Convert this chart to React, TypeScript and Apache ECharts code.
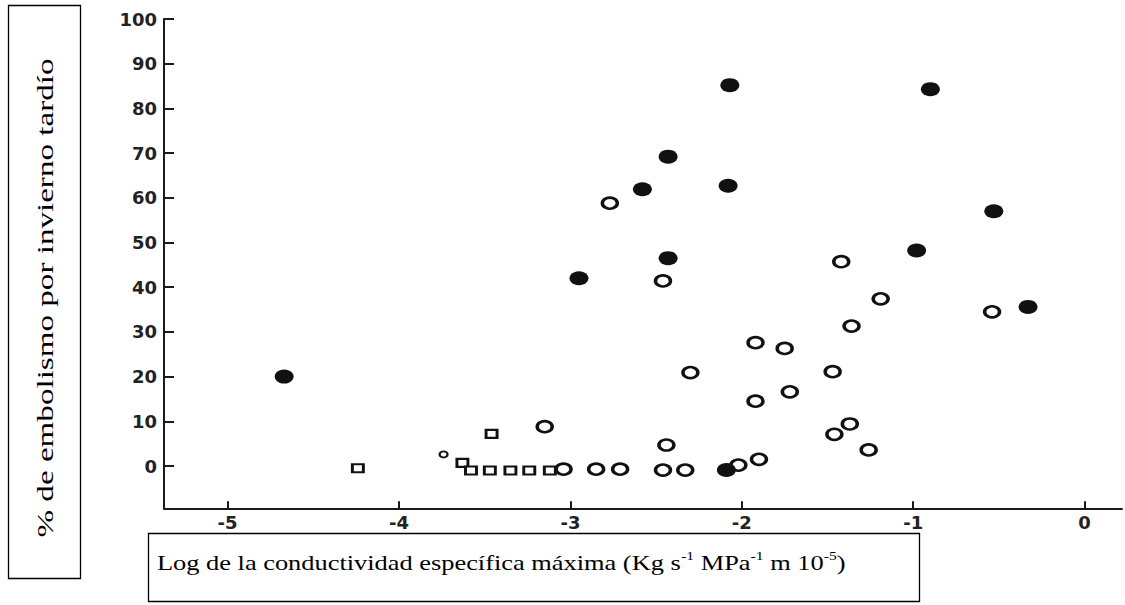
import React, { useEffect, useRef } from "react";
import * as echarts from "echarts";

// Log maximum specific conductivity (x) vs % late-winter embolism (y)
const filledPoints: [number, number][] = [
  [-4.67, 20.0],
  [-2.95, 42.0],
  [-2.58, 61.9],
  [-2.43, 69.2],
  [-2.43, 46.5],
  [-2.07, 85.2],
  [-2.08, 62.7],
  [-0.9, 84.3],
  [-0.98, 48.2],
  [-0.53, 57.0],
  [-0.33, 35.6],
  [-2.09, -0.9],
];

const openPoints: [number, number][] = [
  [-2.77, 58.8],
  [-2.46, 41.4],
  [-3.15, 8.8],
  [-2.3, 20.9],
  [-2.44, 4.7],
  [-1.92, 27.6],
  [-1.75, 26.3],
  [-1.92, 14.5],
  [-1.72, 16.6],
  [-1.42, 45.7],
  [-1.19, 37.4],
  [-1.36, 31.3],
  [-1.47, 21.1],
  [-1.37, 9.4],
  [-1.46, 7.1],
  [-1.26, 3.6],
  [-0.54, 34.5],
  [-3.04, -0.7],
  [-2.85, -0.7],
  [-2.71, -0.7],
  [-2.46, -0.9],
  [-2.33, -0.9],
  [-2.02, 0.2],
  [-1.9, 1.5],
];

const squarePoints: [number, number][] = [
  [-4.24, -0.5],
  [-3.63, 0.7],
  [-3.58, -1.0],
  [-3.47, -1.0],
  [-3.35, -1.0],
  [-3.24, -1.0],
  [-3.12, -1.0],
  [-3.46, 7.2],
];

const smallOpenPoints: [number, number][] = [[-3.74, 2.6]];

const xTicks = [-5, -4, -3, -2, -1, 0];
const yTicks = [0, 10, 20, 30, 40, 50, 60, 70, 80, 90, 100];

const yTitle = "% de embolismo por invierno tardío";
const xTitleParts = ["Log de la conductividad específica máxima (Kg s", "-1", " MPa", "-1", " m 10", "-5", ")"];

export default function App() {
  const ref = useRef<HTMLDivElement>(null);
  useEffect(() => {
    if (!ref.current) return;
    const chart = echarts.init(ref.current, undefined, { renderer: "svg" });
    const axisColor = "#1a1a1a";
    const tickFont = {
      fontFamily: "DejaVu Sans",
      fontWeight: "bold" as const,
      fontSize: 18,
      color: "#222",
    };
    const xTitleRich =
      "{n|" + xTitleParts[0] + "}{s|" + xTitleParts[1] + "}{n|" + xTitleParts[2] + "}{s|" +
      xTitleParts[3] + "}{n|" + xTitleParts[4] + "}{s|" + xTitleParts[5] + "}{n|" + xTitleParts[6] + "}";
    chart.setOption({
      animation: false,
      backgroundColor: "#ffffff",
      grid: { left: 164, right: 3, top: 19, bottom: 96.7, containLabel: false },
      xAxis: {
        type: "value",
        min: -5.371,
        max: 0.218,
        axisLine: { onZero: false, lineStyle: { color: axisColor, width: 2 } },
        axisTick: { inside: true, length: 7, customValues: xTicks, lineStyle: { color: axisColor, width: 2 } },
        axisLabel: { customValues: xTicks, margin: 5, ...tickFont },
        splitLine: { show: false },
      },
      yAxis: {
        type: "value",
        min: -9.46,
        max: 100,
        axisLine: { onZero: false, lineStyle: { color: axisColor, width: 2 } },
        axisTick: { inside: true, length: 10, customValues: yTicks, lineStyle: { color: axisColor, width: 2 } },
        axisLabel: { customValues: yTicks, margin: 7, ...tickFont },
        splitLine: { show: false },
      },
      series: [
        {
          type: "scatter",
          data: squarePoints,
          symbol: "rect",
          symbolSize: [11, 8],
          itemStyle: { color: "#fff", borderColor: "#111", borderWidth: 2.5, opacity: 1 },
        },
        {
          type: "scatter",
          data: smallOpenPoints,
          symbol: "circle",
          symbolSize: [8, 6],
          itemStyle: { color: "#fff", borderColor: "#111", borderWidth: 2, opacity: 1 },
        },
        {
          type: "scatter",
          data: openPoints,
          symbol: "circle",
          symbolSize: [15, 11],
          itemStyle: { color: "#fff", borderColor: "#111", borderWidth: 3, opacity: 1 },
        },
        {
          type: "scatter",
          data: filledPoints,
          symbol: "circle",
          symbolSize: [19, 14],
          itemStyle: { color: "#111", opacity: 1 },
        },
      ],
      graphic: [
        {
          type: "rect",
          shape: { x: 8.5, y: 5.5, width: 72, height: 573 },
          style: { fill: "none", stroke: "#000", lineWidth: 1.3 },
        },
        {
          type: "text",
          x: 45,
          y: 298,
          rotation: Math.PI / 2,
          scaleX: 1.38,
          style: {
            text: yTitle,
            fontFamily: "Liberation Serif",
            fontSize: 24,
            fill: "#000",
            align: "center",
            verticalAlign: "middle",
          },
        },
        {
          type: "rect",
          shape: { x: 148.5, y: 533.5, width: 771, height: 68 },
          style: { fill: "none", stroke: "#000", lineWidth: 1.3 },
        },
        {
          type: "text",
          x: 157,
          y: 562,
          scaleX: 1.2,
          style: {
            text: xTitleRich,
            fill: "#000",
            align: "left",
            verticalAlign: "middle",
            rich: {
              n: { fontFamily: "Liberation Serif", fontSize: 22, fill: "#000", lineHeight: 26 },
              s: { fontFamily: "Liberation Serif", fontSize: 13, fill: "#000", lineHeight: 26, padding: [0, 0, 13, 0] },
            },
          },
        },
      ],
    });
    return () => chart.dispose();
  }, []);
  return (
    <div
      ref={ref}
      style={{ position: "fixed", left: 0, top: 0, width: 1125, height: 605, background: "#fff" }}
    />
  );
}
